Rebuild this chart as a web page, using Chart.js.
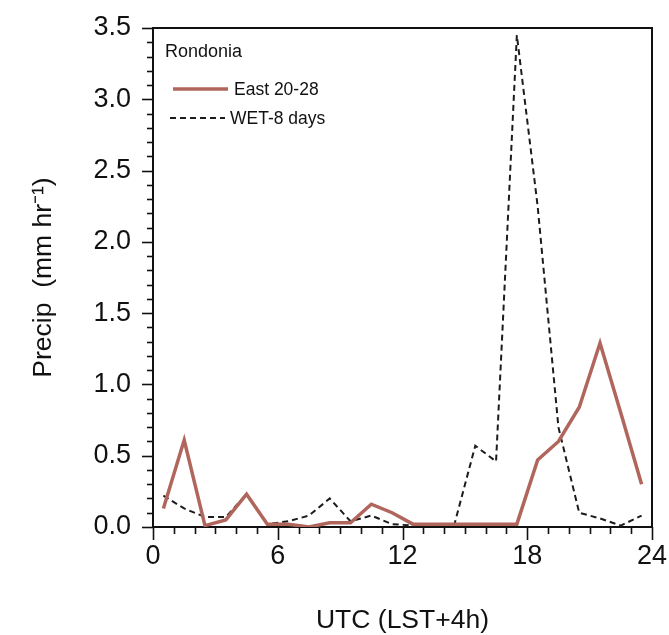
<!DOCTYPE html>
<html><head><meta charset="utf-8">
<script src="https://cdn.jsdelivr.net/npm/chart.js@4.4.1/dist/chart.umd.min.js"></script>
<style>html,body{margin:0;padding:0;background:#fff;}</style>
</head><body>
<canvas id="c" width="669" height="635"></canvas>
<script>
// ---- data ----
const hours = [0.5,1.5,2.5,3.5,4.5,5.5,6.5,7.5,8.5,9.5,10.5,11.5,12.5,13.5,14.5,15.5,16.5,17.5,18.5,19.5,20.5,21.5,22.5,23.5];
const east2028 = [0.13,0.61,0.01,0.05,0.23,0.02,0.02,0.00,0.03,0.03,0.16,0.10,0.02,0.02,0.02,0.02,0.02,0.02,0.47,0.60,0.84,1.29,0.80,0.30];
const wet8days = [0.22,0.13,0.07,0.07,0.23,0.02,0.04,0.08,0.20,0.04,0.08,0.02,0.01,0.01,0.02,0.57,0.46,3.45,2.25,0.70,0.10,0.06,0.01,0.08];
const seriesNames = ['East 20-28','WET-8 days'];
const legendTitle = 'Rondonia';
const xTickLabels = [0,6,12,18,24];
const yTickLabels = [0.0,0.5,1.0,1.5,2.0,2.5,3.0,3.5];
const xTitle = 'UTC (LST+4h)';
const yTitle = 'Precip  (mm hr\u207B\u00B9)';

const FONT = "'Liberation Sans', Arial, Helvetica, sans-serif";

const toPts = (xs, ys) => xs.map((x, i) => ({x, y: ys[i]}));

const decoPlugin = {
  id: 'deco',
  beforeDatasetsDraw(chart) {
    const {ctx, chartArea: a, scales: {x, y}} = chart;
    ctx.save();
    ctx.strokeStyle = '#111';
    ctx.lineWidth = 2;
    ctx.strokeRect(a.left, a.top, a.right - a.left, a.bottom - a.top);
    ctx.lineWidth = 1.6;
    y.ticks.forEach(t => {
      const p = Math.round(y.getPixelForValue(t.value)) + 0.5;
      const major = yTickLabels.some(v => Math.abs(v - t.value) < 1e-6);
      const len = major ? 11 : 6;
      ctx.beginPath(); ctx.moveTo(a.left - len, p); ctx.lineTo(a.left, p); ctx.stroke();
    });
    x.ticks.forEach(t => {
      const p = Math.round(x.getPixelForValue(t.value)) + 0.5;
      const major = xTickLabels.some(v => Math.abs(v - t.value) < 1e-6);
      const len = major ? 13 : 7;
      ctx.beginPath(); ctx.moveTo(p, a.bottom); ctx.lineTo(p, a.bottom + len); ctx.stroke();
    });
    ctx.restore();
  },
  afterDraw(chart) {
    const {ctx, chartArea: a} = chart;
    const ds = chart.data.datasets;
    ctx.save();
    ctx.fillStyle = '#111';
    ctx.textBaseline = 'alphabetic';
    ctx.font = '18px ' + FONT;
    ctx.fillText(legendTitle, a.left + 12, a.top + 29);
    ctx.font = '17.5px ' + FONT;
    ctx.textBaseline = 'middle';
    const rows = [{x0: a.left + 20, x1: a.left + 75, y: a.top + 61, tx: a.left + 81},
                  {x0: a.left + 17, x1: a.left + 72, y: a.top + 90, tx: a.left + 77}];
    ds.forEach((d, i) => {
      const r = rows[i];
      ctx.strokeStyle = d.borderColor;
      ctx.lineWidth = d.borderWidth;
      ctx.setLineDash(d.borderDash || []);
      ctx.beginPath(); ctx.moveTo(r.x0, r.y); ctx.lineTo(r.x1, r.y); ctx.stroke();
      ctx.setLineDash([]);
      ctx.fillText(d.label, r.tx, r.y + 1);
    });
    ctx.restore();
  }
};

new Chart(document.getElementById('c'), {
  type: 'line',
  data: {
    datasets: [
      {label: seriesNames[0], data: toPts(hours, east2028), borderColor: '#b0665c', borderWidth: 3.5,
       pointRadius: 0, tension: 0, fill: false},
      {label: seriesNames[1], data: toPts(hours, wet8days), borderColor: '#1c1c1c', borderWidth: 2,
       borderDash: [6, 4], pointRadius: 0, tension: 0, fill: false}
    ]
  },
  options: {
    responsive: false,
    animation: false,
    devicePixelRatio: 1,
    layout: {padding: {top: 28, right: 17, left: 0, bottom: 0}},
    plugins: {legend: {display: false}, tooltip: {enabled: false}},
    scales: {
      x: {
        type: 'linear', min: 0, max: 24,
        afterFit: s => { s.height = 108; s.paddingLeft = 0; s.paddingRight = 0; },
        border: {display: false},
        grid: {display: false, drawTicks: false},
        ticks: {stepSize: 1, autoSkip: false, maxRotation: 0, padding: 13, color: '#111',
                font: {family: FONT, size: 27},
                callback: v => xTickLabels.includes(v) ? String(v) : ''},
        title: {display: true, text: xTitle, color: '#111', font: {family: FONT, size: 26.5},
                padding: {top: 0, bottom: -2}}
      },
      y: {
        type: 'linear', min: 0, max: 3.5,
        afterFit: s => { s.width = 153; s.paddingTop = 0; s.paddingBottom = 0; },
        border: {display: false},
        grid: {display: false, drawTicks: false},
        ticks: {stepSize: 0.1, autoSkip: false, padding: 22, color: '#111',
                font: {family: FONT, size: 27},
                callback: v => {
                  const m = yTickLabels.find(t => Math.abs(t - v) < 1e-6);
                  return m === undefined ? '' : m.toFixed(1);
                }},
        title: {display: true, text: yTitle, color: '#111', font: {family: FONT, size: 26.5},
                padding: {top: 28, bottom: 0}}
      }
    }
  },
  plugins: [decoPlugin]
});
</script>
</body></html>
